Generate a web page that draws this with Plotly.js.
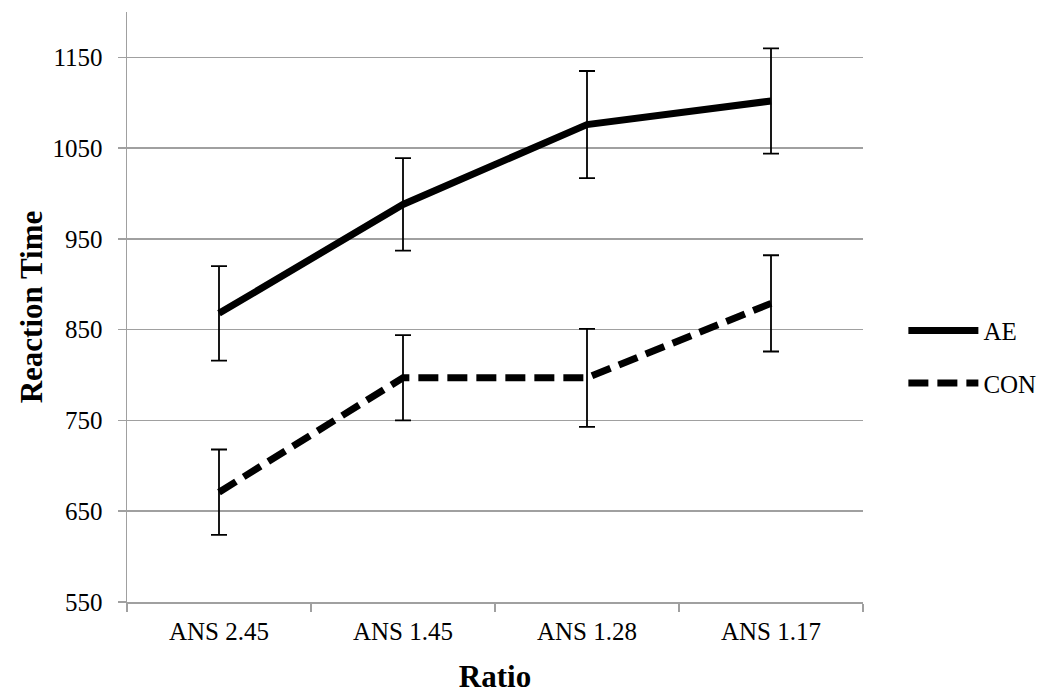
<!DOCTYPE html>
<html>
<head>
<meta charset="utf-8">
<script src="https://cdn.plot.ly/plotly-3.0.1.min.js"></script>
<style>html,body{margin:0;padding:0;background:#fff;}#chart{width:1048px;height:694px;}</style>
</head>
<body>
<div id="chart"></div>
<script>
const categories = ["ANS 2.45", "ANS 1.45", "ANS 1.28", "ANS 1.17"];
const aeValues = [868, 988, 1076, 1102];
const aeErrors = [52, 51, 59, 58];
const conValues = [671, 797, 797, 879];
const conErrors = [47, 47, 54, 53];

const font = "Liberation Serif, Times New Roman, serif";

const traces = [
  {
    x: categories, y: aeValues, name: "AE", type: "scatter", mode: "lines", legendgroup: "a",
    line: {color: "#000", width: 7},
    error_y: {type: "data", array: aeErrors, visible: true, color: "#000", thickness: 1.8, width: 8}
  },
  {
    x: categories, y: conValues, name: "CON", type: "scatter", mode: "lines", legendgroup: "b",
    line: {color: "#000", width: 7, dash: "20px,9px"},
    error_y: {type: "data", array: conErrors, visible: true, color: "#000", thickness: 1.8, width: 8}
  }
];

const layout = {
  width: 1048, height: 694,
  margin: {l: 127, r: 185, t: 12, b: 92},
  paper_bgcolor: "#fff", plot_bgcolor: "#fff",
  font: {family: font, size: 25, color: "#000"},
  showlegend: true,
  legend: {xref: "container", yref: "container", x: 0.862, y: 0.486, xanchor: "left", yanchor: "middle", font: {family: font, size: 25, color: "#000"}, itemwidth: 70, tracegroupgap: 17, bgcolor: "rgba(0,0,0,0)"},
  xaxis: {
    type: "category", range: [-0.5, 3.5],
    tickson: "boundaries", ticks: "outside", ticklen: 8, tickcolor: "#a0a0a0", tickwidth: 1.5, ticklabelstandoff: 6,
    showline: true, linecolor: "#a0a0a0", linewidth: 1.5,
    showgrid: false, zeroline: false,
    tickfont: {family: font, size: 25, color: "#000"},
    title: {text: "<b>Ratio</b>", font: {family: font, size: 31, color: "#000"}, standoff: 28}
  },
  yaxis: {
    range: [550, 1200], tickvals: [550, 650, 750, 850, 950, 1050, 1150],
    ticks: "outside", ticklen: 8, tickcolor: "#a0a0a0", tickwidth: 1.5, ticklabelstandoff: 10,
    showline: true, linecolor: "#a0a0a0", linewidth: 1.5,
    showgrid: true, gridcolor: "#a0a0a0", gridwidth: 1.5, zeroline: false,
    tickfont: {family: font, size: 25, color: "#000"},
    title: {text: "<b>Reaction Time</b>", font: {family: font, size: 31, color: "#000"}, standoff: 0}
  }
};

Plotly.newPlot("chart", traces, layout, {displayModeBar: false, staticPlot: true});
</script>
</body>
</html>
